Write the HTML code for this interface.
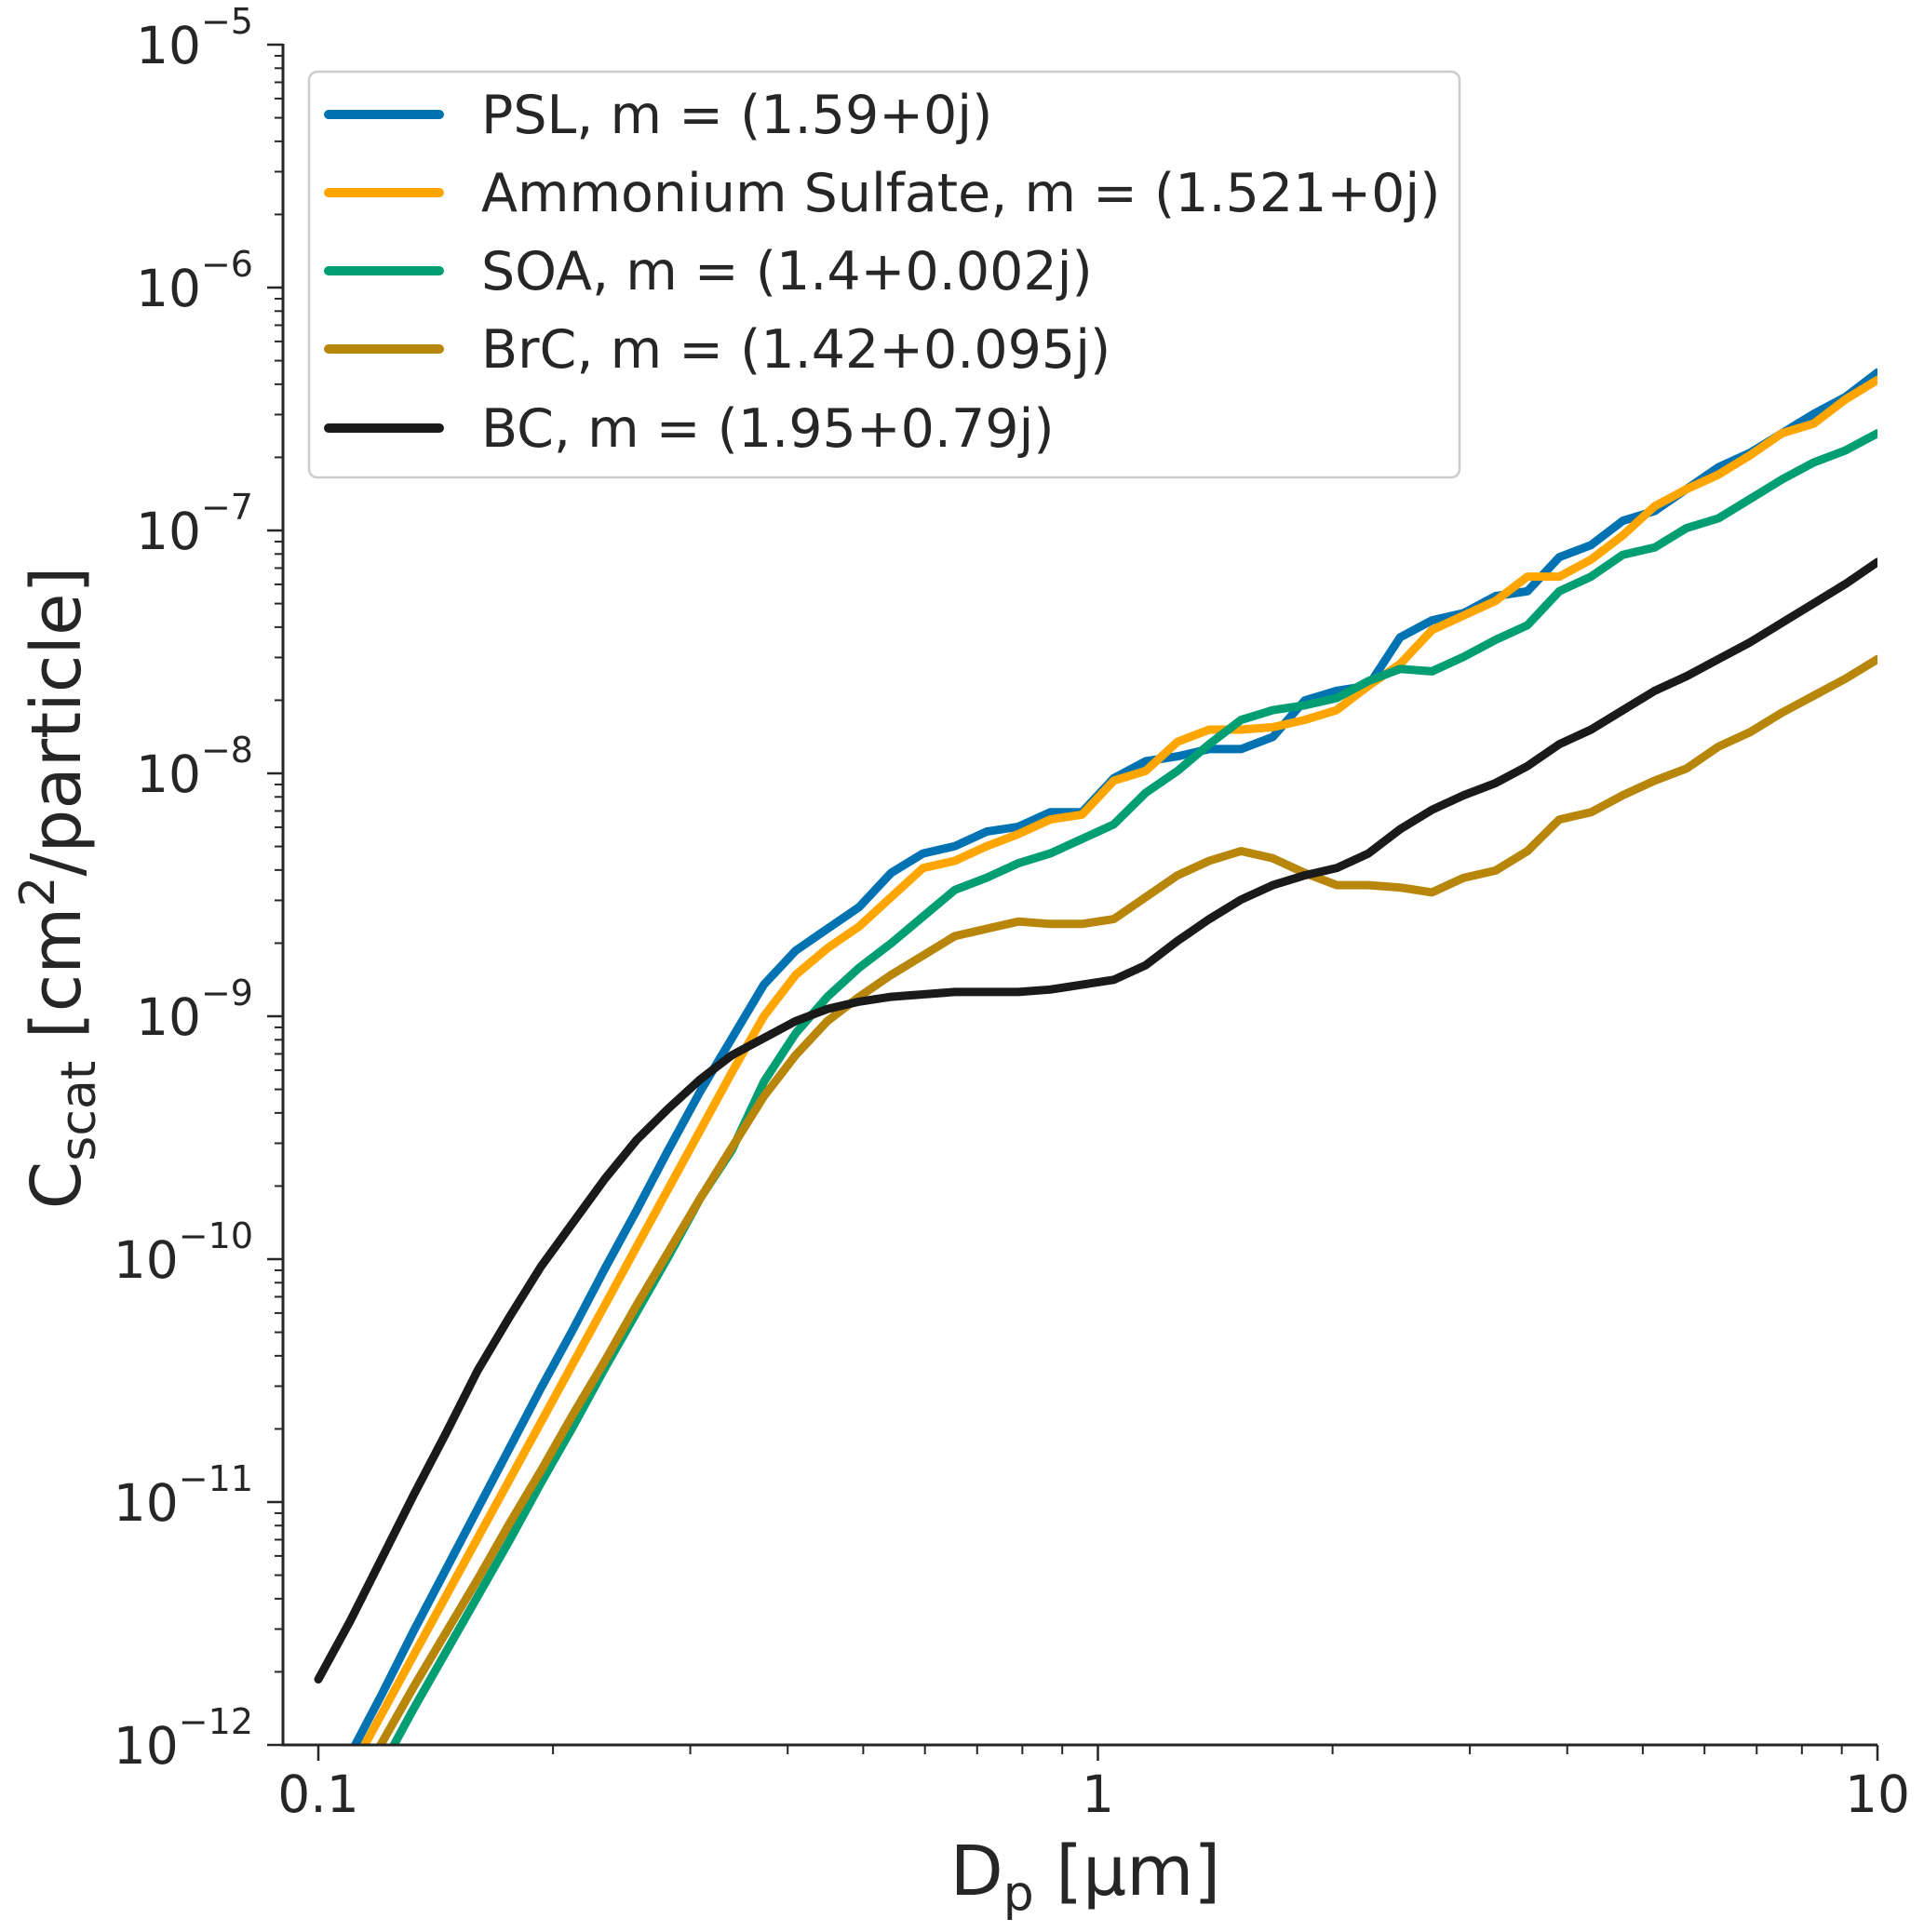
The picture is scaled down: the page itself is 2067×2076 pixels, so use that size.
<!DOCTYPE html>
<html><head><meta charset="utf-8"><style>
html,body{margin:0;padding:0;background:#fff;}
svg{display:block;font-family:"DejaVu Sans","Liberation Sans",sans-serif;}
</style></head><body>
<svg id="chart" width="2067" height="2076" viewBox="0 0 2067 2076" xmlns="http://www.w3.org/2000/svg">
<defs><clipPath id="plotclip"><rect x="304" y="48" width="1713" height="1827"/></clipPath></defs>
<g id="grid-layer"></g>
<g id="series-layer" clip-path="url(#plotclip)"></g>
<g id="axes-layer"></g>
<text x="1166" y="2036" font-size="74" fill="#262626" text-anchor="middle">D<tspan font-size="52" dy="16">p</tspan><tspan dy="-16"> [μm]</tspan></text>
<text transform="translate(86,954) rotate(-90)" font-size="74" fill="#262626" text-anchor="middle">C<tspan font-size="52" dy="16">scat</tspan><tspan dy="-16"> [cm</tspan><tspan font-size="52" dy="-28">2</tspan><tspan dy="28">/particle]</tspan></text>
<g id="legend">
<rect x="332" y="77" width="1236" height="436" rx="9" fill="#fff" fill-opacity="0.8" stroke="#cccccc" stroke-width="2.5"/>
</g>
</svg>
<script>
const diameters = [0.1,0.10985,0.12068,0.13257,0.14563,0.15999,0.17575,0.19307,0.2121,0.233,0.25595,0.28118,0.30888,0.33932,0.37276,0.40949,0.44984,0.49417,0.54287,0.59636,0.65513,0.71969,0.7906,0.86851,0.9541,1.04811,1.1514,1.26486,1.3895,1.52642,1.67683,1.84207,2.02359,2.223,2.44205,2.6827,2.94705,3.23746,3.55648,3.90694,4.29193,4.71487,5.17947,5.68987,6.25055,6.86649,7.54312,8.28643,9.10298,10.0];
const logCscatPSL = [-12.29,-12.04,-11.79,-11.53,-11.28,-11.03,-10.78,-10.53,-10.29,-10.04,-9.80,-9.55,-9.31,-9.09,-8.87,-8.73,-8.64,-8.55,-8.41,-8.33,-8.30,-8.24,-8.22,-8.16,-8.16,-8.02,-7.95,-7.93,-7.90,-7.90,-7.85,-7.70,-7.66,-7.64,-7.44,-7.37,-7.34,-7.27,-7.25,-7.11,-7.06,-6.96,-6.92,-6.83,-6.74,-6.68,-6.60,-6.52,-6.45,-6.35];
const logCscatAS = [-12.35,-12.11,-11.87,-11.63,-11.39,-11.15,-10.91,-10.67,-10.43,-10.19,-9.95,-9.71,-9.47,-9.23,-9.00,-8.83,-8.72,-8.63,-8.51,-8.39,-8.36,-8.30,-8.25,-8.19,-8.17,-8.03,-7.99,-7.87,-7.82,-7.82,-7.81,-7.78,-7.74,-7.64,-7.55,-7.41,-7.35,-7.29,-7.19,-7.19,-7.12,-7.02,-6.90,-6.83,-6.77,-6.69,-6.60,-6.56,-6.46,-6.38];
const logCscatSOA = [-12.56,-12.32,-12.09,-11.85,-11.62,-11.39,-11.16,-10.92,-10.69,-10.45,-10.22,-9.99,-9.75,-9.55,-9.27,-9.07,-8.92,-8.80,-8.70,-8.59,-8.48,-8.43,-8.37,-8.33,-8.27,-8.21,-8.08,-7.99,-7.88,-7.78,-7.74,-7.72,-7.69,-7.62,-7.57,-7.58,-7.52,-7.45,-7.39,-7.25,-7.19,-7.10,-7.07,-6.99,-6.95,-6.87,-6.79,-6.72,-6.67,-6.60];
const logCscatBrC = [-12.44,-12.21,-11.99,-11.76,-11.54,-11.32,-11.09,-10.87,-10.64,-10.42,-10.19,-9.97,-9.75,-9.54,-9.33,-9.16,-9.02,-8.92,-8.83,-8.75,-8.67,-8.64,-8.61,-8.62,-8.62,-8.60,-8.51,-8.42,-8.36,-8.32,-8.35,-8.41,-8.46,-8.46,-8.47,-8.49,-8.43,-8.40,-8.32,-8.19,-8.16,-8.09,-8.03,-7.98,-7.89,-7.83,-7.75,-7.68,-7.61,-7.53];
const logCscatBC = [-11.73,-11.49,-11.23,-10.97,-10.72,-10.46,-10.24,-10.03,-9.85,-9.67,-9.51,-9.38,-9.26,-9.16,-9.09,-9.02,-8.97,-8.94,-8.92,-8.91,-8.90,-8.90,-8.90,-8.89,-8.87,-8.85,-8.79,-8.69,-8.60,-8.52,-8.46,-8.42,-8.39,-8.33,-8.23,-8.15,-8.09,-8.04,-7.97,-7.88,-7.82,-7.74,-7.66,-7.60,-7.53,-7.46,-7.38,-7.30,-7.22,-7.13];
const seriesLabels = ["PSL, m = (1.59+0j)","Ammonium Sulfate, m = (1.521+0j)","SOA, m = (1.4+0.002j)","BrC, m = (1.42+0.095j)","BC, m = (1.95+0.79j)"];
const xTickValues = [0.1,1,10];
const xTickLabels = ["0.1","1","10"];
const yTickExponents = [-5,-6,-7,-8,-9,-10,-11,-12];

const NS="http://www.w3.org/2000/svg";
const X0=342, XDEC=837.5, Y0=48, YDEC=261;
const xMinLog=-1-(X0-304)/XDEC, xMaxLog=1;
function xs(d){return X0+XDEC*(Math.log10(d)+1);}
function ysLog(l){return Y0+YDEC*(-5-l);}
function mk(tag,attrs,parent){const e=document.createElementNS(NS,tag);for(const k in attrs)e.setAttribute(k,attrs[k]);parent.appendChild(e);return e;}

const series=[
 {name:"psl",vals:logCscatPSL,color:"#0173b2"},
 {name:"ammonium-sulfate",vals:logCscatAS,color:"#ffa500"},
 {name:"soa",vals:logCscatSOA,color:"#029e73"},
 {name:"brc",vals:logCscatBrC,color:"#b8860b"},
 {name:"bc",vals:logCscatBC,color:"#1a1a1a"}
];
const sl=document.getElementById("series-layer");
series.forEach(s=>{
  const pts=s.vals.map((v,i)=>xs(diameters[i]).toFixed(1)+","+ysLog(v).toFixed(1)).join(" ");
  const p=mk("polyline",{points:pts,fill:"none",stroke:s.color,"stroke-width":9,"stroke-linejoin":"round","stroke-linecap":"round"},sl);
  
  
});

const ax=document.getElementById("axes-layer");
const xEnd=xs(10), yBot=ysLog(-12);
let l=mk("line",{x1:304,y1:Y0-1,x2:304,y2:yBot+1.5,stroke:"#262626","stroke-width":3},ax);


l=mk("line",{x1:302.5,y1:yBot,x2:xEnd,y2:yBot,stroke:"#262626","stroke-width":3},ax);



yTickExponents.forEach(e=>{
  const y=ysLog(e);
  const t=mk("line",{x1:287,y1:y,x2:304,y2:y,stroke:"#262626","stroke-width":2.5},ax);
  
  
  const tx=mk("text",{x:272,y:y+20,"font-size":55,fill:"#262626","text-anchor":"end"},ax);
  
  
  tx.innerHTML='10<tspan font-size="38" dy="-32">\u2212'+Math.abs(e)+'</tspan>';
  if(e>-12){for(let m=2;m<=9;m++){
    const ym=ysLog(e-1+Math.log10(m));
    const mt=mk("line",{x1:295,y1:ym,x2:304,y2:ym,stroke:"#262626","stroke-width":2},ax);
    
    
  }}
});
xTickValues.forEach((v,i)=>{
  const x=xs(v);
  const t=mk("line",{x1:x,y1:yBot,x2:x,y2:yBot+17,stroke:"#262626","stroke-width":2.5},ax);
  
  
  const tx=mk("text",{x:x,y:yBot+72,"font-size":55,fill:"#262626","text-anchor":"middle"},ax);
  
  
  tx.textContent=xTickLabels[i];
});
for(let d=-2;d<=0;d++){for(let m=2;m<=9;m++){
  const lv=d+Math.log10(m);
  if(lv<xMinLog||lv>xMaxLog)continue;
  const x=X0+XDEC*(lv+1);
  const mt=mk("line",{x1:x,y1:yBot,x2:x,y2:yBot+10,stroke:"#262626","stroke-width":2},ax);
  
  
}}

const lg=document.getElementById("legend");
const rowY=[123,207,291,375,460];
series.forEach((s,i)=>{
  const ln=mk("line",{x1:353,y1:rowY[i],x2:472,y2:rowY[i],stroke:s.color,"stroke-width":10,"stroke-linecap":"round"},lg);
  
  
  const tx=mk("text",{x:517,y:rowY[i]+20,"font-size":57,fill:"#262626"},lg);
  
  
  tx.textContent=seriesLabels[i];
});
</script>
</body></html>
